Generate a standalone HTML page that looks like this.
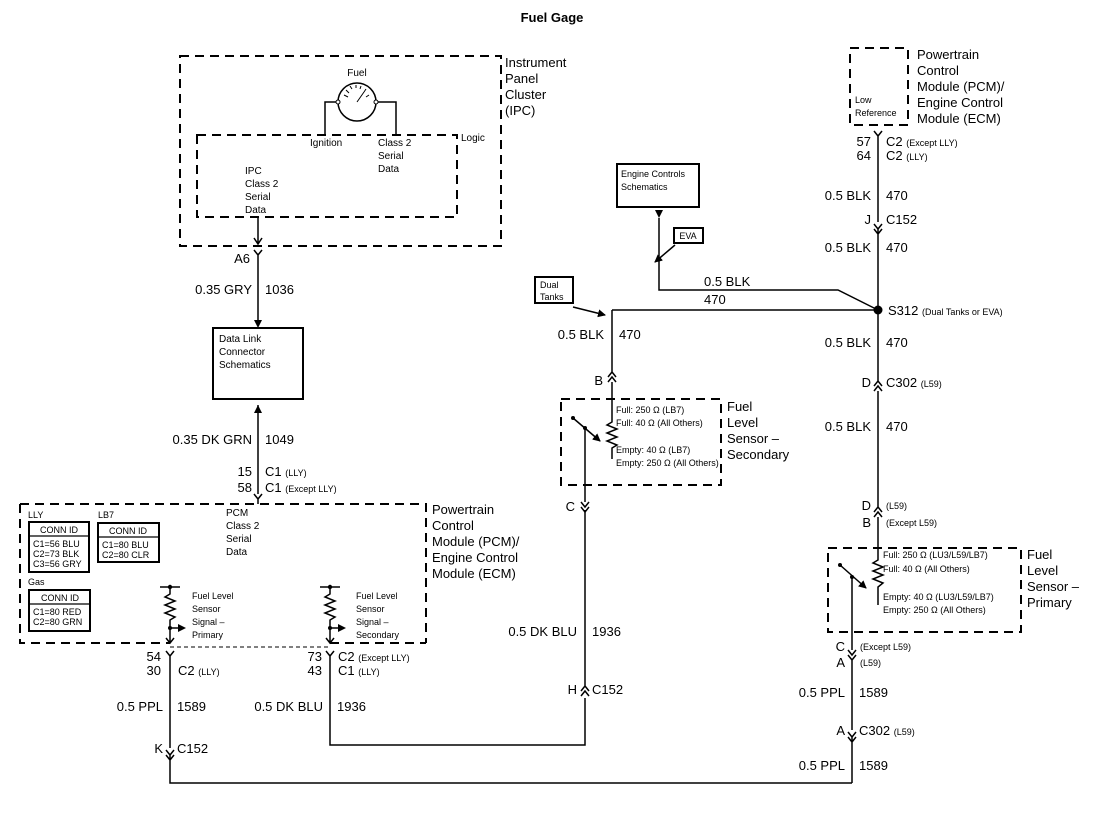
<!DOCTYPE html>
<html><head><meta charset="utf-8"><style>
html,body{margin:0;padding:0;background:#fff;}
svg{display:block;font-family:"Liberation Sans",Arial,sans-serif;}
.l{font-size:13px;}
.s{font-size:9px;}
.m{font-size:10px;}
.t{font-size:13px;font-weight:bold;}
</style></head><body>
<svg width="1105" height="816" viewBox="0 0 1105 816" xmlns="http://www.w3.org/2000/svg">
<defs>
<marker id="ar" markerWidth="8" markerHeight="8" refX="7" refY="4" orient="auto" markerUnits="userSpaceOnUse"><path d="M0,0 L8,4 L0,8 z" fill="#000"/></marker>
</defs>
<g fill="none" stroke="#000">
<rect x="180" y="56" width="321" height="190" stroke-width="2" stroke-dasharray="9,6"/>
<rect x="197" y="135" width="260" height="82" stroke-width="2" stroke-dasharray="9,6"/>
<circle cx="357" cy="102" r="19" stroke-width="1.5"/>
<circle cx="338" cy="102" r="2" fill="#fff" stroke-width="1"/>
<circle cx="376" cy="102" r="2" fill="#fff" stroke-width="1"/>
<path d="M336,102 H325 V135 M378,102 H396 V135" stroke-width="1.5"/>
<path d="M357,102 L364,92 M344,95 L348,97 M346,90 L349,93 M350,86 L352,89 M356,85 L356,88 M361,86 L360,89 M366,89 L364,92 M369,95 L366,97" stroke-width="1"/>
<path d="M258,217 V244 M254,238 L258,244 L262,238" stroke-width="1.5"/>
<path d="M254,250 L258,255 L262,250 M258,255 V320" stroke-width="1.5"/>
<rect x="213" y="328" width="90" height="71" stroke-width="2"/>
<path d="M258,405 V494" stroke-width="1.5"/>
<path d="M254,494 L258,499 L262,494 M258,499 V504" stroke-width="1.5"/>
<path d="M20,504 H426 V643 M20,504 V643 H170" stroke-width="2" stroke-dasharray="9,6"/>
<path d="M170,647 H330" stroke-width="1" stroke-dasharray="4,3"/>
<path d="M330,643 H426" stroke-width="2" stroke-dasharray="9,6"/>
<rect x="29" y="522" width="60" height="50" stroke-width="2"/><path d="M29,536 H89" stroke-width="1.3"/>
<rect x="98" y="523" width="61" height="39" stroke-width="2"/><path d="M98,537 H159" stroke-width="1.3"/>
<rect x="29" y="590" width="61" height="41" stroke-width="2"/><path d="M29,604 H90" stroke-width="1.3"/>
<path d="M160,587 H180 M170,587 V594 L165,597 L175,601 L165,605 L175,609 L165,613 L175,617 L170,620 V643 M166,638 L170,643 L174,638 M170,628 H178" stroke-width="1.5"/>
<path d="M320,587 H340 M330,587 V594 L325,597 L335,601 L325,605 L335,609 L325,613 L335,617 L330,620 V643 M326,638 L330,643 L334,638 M330,628 H338" stroke-width="1.5"/>
<path d="M166,651 L170,656 L174,651 M170,656 V748 M166,750 L170,755 L174,750 M166,755 L170,760 L174,755 M170,755 V783 H852" stroke-width="1.5"/>
<path d="M326,651 L330,656 L334,651 M330,656 V745 H585 V698 M581,696 L585,691 L589,696 M581,691 L585,686 L589,691 M585,686 V510" stroke-width="1.5"/>
<path d="M581,502 L585,507 L589,502 M581,507 L585,512 L589,507 M585,428 V502" stroke-width="1.5"/>
<rect x="561" y="399" width="160" height="86" stroke-width="2" stroke-dasharray="9,6"/>
<path d="M612,310 V373 M608,377 L612,372 L616,377 M608,382 L612,377 L616,382 M612,382 V422 L607,425 L617,429 L607,433 L617,437 L607,441 L617,445 L612,448 V459" stroke-width="1.5"/>
<path d="M573,418 L600,441" stroke-width="1.5" marker-end="url(#ar)"/>
<rect x="850" y="48" width="58" height="77" stroke-width="2" stroke-dasharray="9,6"/>
<path d="M874,131 L878,136 L882,131 M878,136 V222 M874,224 L878,229 L882,224 M874,229 L878,234 L882,229 M878,229 V382 M874,386 L878,381 L882,386 M874,391 L878,386 L882,391 M878,391 V508 M874,512 L878,507 L882,512 M874,517 L878,512 L882,517 M878,517 V560 L873,563 L883,567 L873,571 L883,575 L873,579 L883,583 L878,587 V605" stroke-width="1.5"/>
<rect x="828" y="548" width="193" height="84" stroke-width="2" stroke-dasharray="9,6"/>
<path d="M840,565 L866,588" stroke-width="1.5" marker-end="url(#ar)"/>
<path d="M852,577 V650 M848,650 L852,655 L856,650 M848,655 L852,660 L856,655 M852,660 V730 M848,732 L852,737 L856,732 M848,737 L852,742 L856,737 M852,737 V783" stroke-width="1.5"/>
<rect x="617" y="164" width="82" height="43" stroke-width="2"/>
<path d="M659,218 V290 H838 L878,310" stroke-width="1.5"/>
<rect x="674" y="228" width="29" height="15" stroke-width="2"/>
<path d="M675,245 L655,262" stroke-width="1.5" marker-end="url(#ar)"/>
<rect x="535" y="277" width="38" height="26" stroke-width="2"/>
<path d="M573,307 L605,315" stroke-width="1.5" marker-end="url(#ar)"/>
<path d="M612,310 H878" stroke-width="1.5"/>
</g>
<g fill="#000">
<path d="M254,320 L262,320 L258,328 z"/>
<path d="M254,413 L262,413 L258,405 z"/>
<path d="M655,210 L663,210 L659,218 z"/>
<circle cx="878" cy="310" r="4.5"/>
<path d="M178,624 L186,628 L178,632 z"/><circle cx="170" cy="628" r="2"/><circle cx="170" cy="587" r="2.2"/>
<path d="M338,624 L346,628 L338,632 z"/><circle cx="330" cy="628" r="2"/><circle cx="330" cy="587" r="2.2"/>
<circle cx="573" cy="418" r="2"/><circle cx="585" cy="428" r="2"/>
<circle cx="840" cy="565" r="2"/><circle cx="852" cy="577" r="2"/>
</g>
<g fill="#000">
<text x="552" y="22" class="t" text-anchor="middle">Fuel Gage</text>
<text x="505" y="67" class="l">Instrument</text><text x="505" y="83" class="l">Panel</text><text x="505" y="99" class="l">Cluster</text><text x="505" y="115" class="l">(IPC)</text>
<text x="357" y="76" class="m" text-anchor="middle">Fuel</text>
<text x="461" y="141" class="m">Logic</text>
<text x="310" y="146" class="m">Ignition</text>
<text x="378" y="146" class="m">Class 2</text><text x="378" y="159" class="m">Serial</text><text x="378" y="172" class="m">Data</text>
<text x="245" y="174" class="m">IPC</text><text x="245" y="187" class="m">Class 2</text><text x="245" y="200" class="m">Serial</text><text x="245" y="213" class="m">Data</text>
<text x="250" y="263" class="l" text-anchor="end">A6</text>
<text x="252" y="294" class="l" text-anchor="end">0.35 GRY</text><text x="265" y="294" class="l">1036</text>
<text x="219" y="342" class="m">Data Link</text><text x="219" y="355" class="m">Connector</text><text x="219" y="368" class="m">Schematics</text>
<text x="252" y="444" class="l" text-anchor="end">0.35 DK GRN</text><text x="265" y="444" class="l">1049</text>
<text x="252" y="476" class="l" text-anchor="end">15</text><text x="265" y="476" class="l">C1 <tspan class="s">(LLY)</tspan></text>
<text x="252" y="492" class="l" text-anchor="end">58</text><text x="265" y="492" class="l">C1 <tspan class="s">(Except LLY)</tspan></text>
<text x="432" y="514" class="l">Powertrain</text><text x="432" y="530" class="l">Control</text><text x="432" y="546" class="l">Module (PCM)/</text><text x="432" y="562" class="l">Engine Control</text><text x="432" y="578" class="l">Module (ECM)</text>
<text x="226" y="516" class="m">PCM</text><text x="226" y="529" class="m">Class 2</text><text x="226" y="542" class="m">Serial</text><text x="226" y="555" class="m">Data</text>
<text x="28" y="518" class="s">LLY</text><text x="98" y="518" class="s">LB7</text><text x="28" y="585" class="s">Gas</text>
<text x="59" y="533" class="s" text-anchor="middle">CONN ID</text>
<text x="33" y="547" class="s">C1=56 BLU</text><text x="33" y="557" class="s">C2=73 BLK</text><text x="33" y="567" class="s">C3=56 GRY</text>
<text x="128" y="534" class="s" text-anchor="middle">CONN ID</text>
<text x="102" y="548" class="s">C1=80 BLU</text><text x="102" y="558" class="s">C2=80 CLR</text>
<text x="60" y="601" class="s" text-anchor="middle">CONN ID</text>
<text x="33" y="615" class="s">C1=80 RED</text><text x="33" y="625" class="s">C2=80 GRN</text>
<text x="192" y="599" class="s">Fuel Level</text><text x="192" y="612" class="s">Sensor</text><text x="192" y="625" class="s">Signal –</text><text x="192" y="638" class="s">Primary</text>
<text x="356" y="599" class="s">Fuel Level</text><text x="356" y="612" class="s">Sensor</text><text x="356" y="625" class="s">Signal –</text><text x="356" y="638" class="s">Secondary</text>
<text x="161" y="661" class="l" text-anchor="end">54</text><text x="161" y="675" class="l" text-anchor="end">30</text>
<text x="178" y="675" class="l">C2 <tspan class="s">(LLY)</tspan></text>
<text x="322" y="661" class="l" text-anchor="end">73</text><text x="322" y="675" class="l" text-anchor="end">43</text>
<text x="338" y="661" class="l">C2 <tspan class="s">(Except LLY)</tspan></text><text x="338" y="675" class="l">C1 <tspan class="s">(LLY)</tspan></text>
<text x="163" y="711" class="l" text-anchor="end">0.5 PPL</text><text x="177" y="711" class="l">1589</text>
<text x="323" y="711" class="l" text-anchor="end">0.5 DK BLU</text><text x="337" y="711" class="l">1936</text>
<text x="163" y="753" class="l" text-anchor="end">K</text><text x="177" y="753" class="l">C152</text>
<text x="577" y="636" class="l" text-anchor="end">0.5 DK BLU</text><text x="592" y="636" class="l">1936</text>
<text x="577" y="694" class="l" text-anchor="end">H</text><text x="592" y="694" class="l">C152</text>
<text x="575" y="511" class="l" text-anchor="end">C</text>
<text x="603" y="385" class="l" text-anchor="end">B</text>
<text x="604" y="339" class="l" text-anchor="end">0.5 BLK</text><text x="619" y="339" class="l">470</text>
<text x="616" y="413" class="s">Full: 250 Ω (LB7)</text><text x="616" y="426" class="s">Full: 40 Ω (All Others)</text>
<text x="616" y="453" class="s">Empty: 40 Ω (LB7)</text><text x="616" y="466" class="s">Empty: 250 Ω (All Others)</text>
<text x="727" y="411" class="l">Fuel</text><text x="727" y="427" class="l">Level</text><text x="727" y="443" class="l">Sensor –</text><text x="727" y="459" class="l">Secondary</text>
<text x="621" y="177" class="s">Engine Controls</text><text x="621" y="190" class="s">Schematics</text>
<text x="688" y="239" class="s" text-anchor="middle">EVA</text>
<text x="540" y="288" class="s">Dual</text><text x="540" y="300" class="s">Tanks</text>
<text x="704" y="286" class="l">0.5 BLK</text><text x="704" y="304" class="l">470</text>
<text x="855" y="103" class="s">Low</text><text x="855" y="116" class="s">Reference</text>
<text x="917" y="59" class="l">Powertrain</text><text x="917" y="75" class="l">Control</text><text x="917" y="91" class="l">Module (PCM)/</text><text x="917" y="107" class="l">Engine Control</text><text x="917" y="123" class="l">Module (ECM)</text>
<text x="871" y="146" class="l" text-anchor="end">57</text><text x="871" y="160" class="l" text-anchor="end">64</text>
<text x="886" y="146" class="l">C2 <tspan class="s">(Except LLY)</tspan></text><text x="886" y="160" class="l">C2 <tspan class="s">(LLY)</tspan></text>
<text x="871" y="200" class="l" text-anchor="end">0.5 BLK</text><text x="886" y="200" class="l">470</text>
<text x="871" y="224" class="l" text-anchor="end">J</text><text x="886" y="224" class="l">C152</text>
<text x="871" y="252" class="l" text-anchor="end">0.5 BLK</text><text x="886" y="252" class="l">470</text>
<text x="888" y="315" class="l">S312 <tspan class="s">(Dual Tanks or EVA)</tspan></text>
<text x="871" y="347" class="l" text-anchor="end">0.5 BLK</text><text x="886" y="347" class="l">470</text>
<text x="871" y="387" class="l" text-anchor="end">D</text><text x="886" y="387" class="l">C302 <tspan class="s">(L59)</tspan></text>
<text x="871" y="431" class="l" text-anchor="end">0.5 BLK</text><text x="886" y="431" class="l">470</text>
<text x="871" y="510" class="l" text-anchor="end">D</text><text x="886" y="509" class="s">(L59)</text>
<text x="871" y="527" class="l" text-anchor="end">B</text><text x="886" y="526" class="s">(Except L59)</text>
<text x="883" y="558" class="s">Full: 250 Ω (LU3/L59/LB7)</text><text x="883" y="572" class="s">Full: 40 Ω (All Others)</text>
<text x="883" y="600" class="s">Empty: 40 Ω (LU3/L59/LB7)</text><text x="883" y="613" class="s">Empty: 250 Ω (All Others)</text>
<text x="1027" y="559" class="l">Fuel</text><text x="1027" y="575" class="l">Level</text><text x="1027" y="591" class="l">Sensor –</text><text x="1027" y="607" class="l">Primary</text>
<text x="845" y="651" class="l" text-anchor="end">C</text><text x="860" y="650" class="s">(Except L59)</text>
<text x="845" y="667" class="l" text-anchor="end">A</text><text x="860" y="666" class="s">(L59)</text>
<text x="845" y="697" class="l" text-anchor="end">0.5 PPL</text><text x="859" y="697" class="l">1589</text>
<text x="845" y="735" class="l" text-anchor="end">A</text><text x="859" y="735" class="l">C302 <tspan class="s">(L59)</tspan></text>
<text x="845" y="770" class="l" text-anchor="end">0.5 PPL</text><text x="859" y="770" class="l">1589</text>
</g>
</svg>
</body></html>
